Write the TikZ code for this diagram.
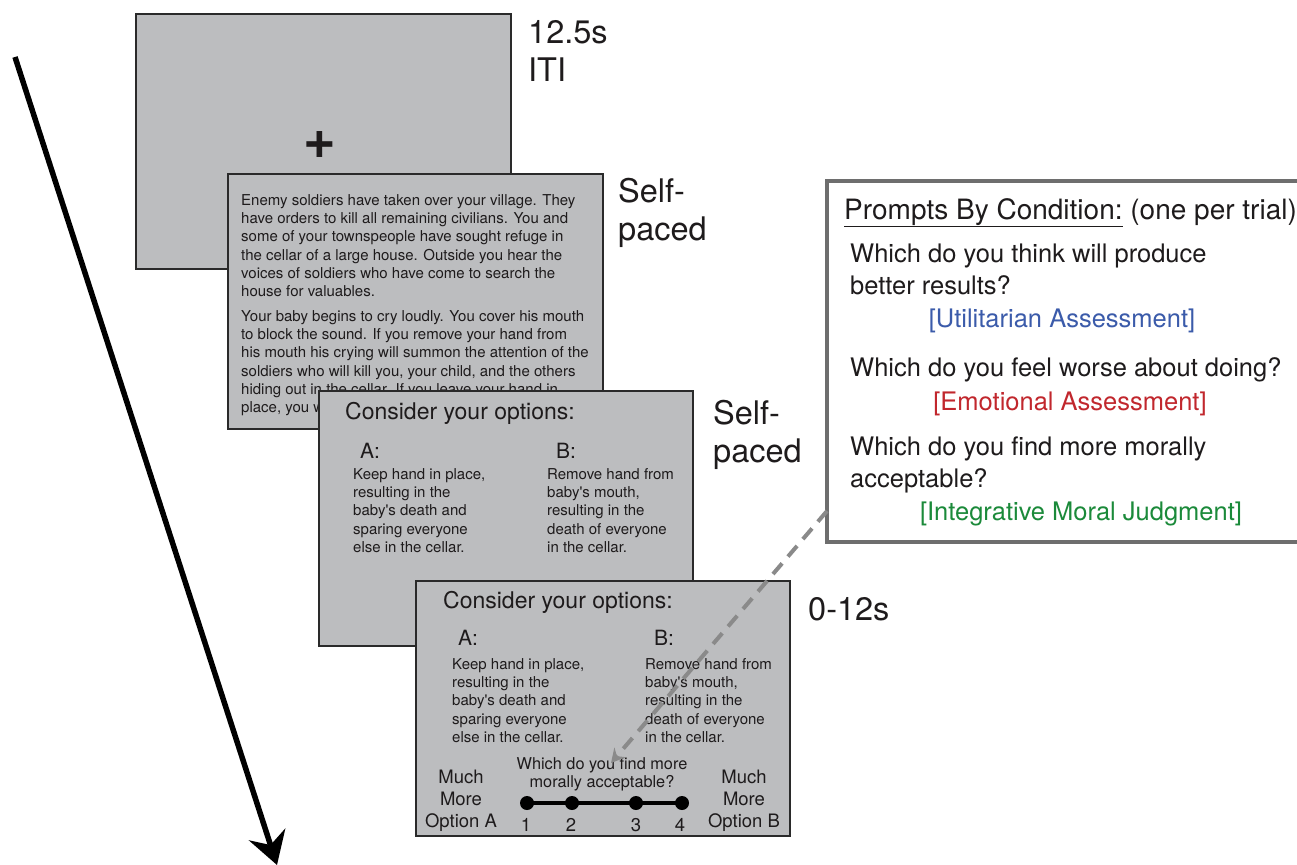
\documentclass[tikz,border=0pt]{standalone}
\usepackage{fontspec}
\setmainfont{TeX Gyre Heros}[Ligatures=TeXOff]
\usetikzlibrary{arrows.meta,calc}
\definecolor{scr}{HTML}{BCBDBF}
\definecolor{scrline}{HTML}{2A2A2A}
\definecolor{txtc}{HTML}{1E1B1C}
\definecolor{promptline}{HTML}{6E6E6E}
\definecolor{dashc}{HTML}{8A8A8A}
\definecolor{utilc}{HTML}{3B5BAA}
\definecolor{emoc}{HTML}{C1272D}
\definecolor{intc}{HTML}{1B8A3A}
\newcommand\fsz[2]{\fontsize{#1}{#2}\selectfont}
\begin{document}
\begin{tikzpicture}[x=1pt,y=-1pt,
  screen/.style={draw=scrline, fill=scr, line width=2pt, rectangle, inner sep=0pt, anchor=north west},
  txt/.style={anchor=north west, inner sep=0pt, align=left, text=txtc},
  story/.style={txt, font=\fsz{15}{18.3}},
  consider/.style={txt, font=\fsz{23}{27}},
  optlab/.style={txt, font=\fsz{21}{25}},
  timing/.style={txt, font=\fsz{32.5}{38.5}},
  scaletxt/.style={anchor=north, inner sep=0pt, align=center, text=txtc, font=\fsz{18.5}{22}},
  prompt/.style={txt, font=\fsz{25.5}{31.5}},
  cond/.style={anchor=north, inner sep=0pt, font=\fsz{25.5}{31.5}},
  dot/.style={circle, fill=black, inner sep=0pt, minimum size=14pt}
]
\useasboundingbox (0,0) rectangle (1297,864);

% time arrow
\coordinate (tstart) at (15,57);
\coordinate (tend) at (277,865);
\draw[line width=5.5pt, -{Stealth[length=32pt,width=38pt,inset=11pt]}] (tstart) -- (tend);

% screen 1
\node[screen, minimum width=375pt, minimum height=255pt] (s1) at (135,13) {};
\node[inner sep=0pt, text=txtc, font=\fsz{56}{56}\bfseries] (plus) at (320,145) {+};
\node[timing] (iti) at (528,20) {12.5s\\ITI};

% screen 2
\node[screen, minimum width=375pt, minimum height=255pt] (s2) at (227,173) {};
\node[story] (p1) at (241,194) {Enemy soldiers have taken over your village. They\\
have orders to kill all remaining civilians. You and\\
some of your townspeople have sought refuge in\\
the cellar of a large house. Outside you hear the\\
voices of soldiers who have come to search the\\
house for valuables.};
\node[story] (p2) at (241,310) {Your baby begins to cry loudly. You cover his mouth\\
to block the sound. If you remove your hand from\\
his mouth his crying will summon the attention of the\\
soldiers who will kill you, your child, and the others\\
hiding out in the cellar. If you leave your hand in\\
place, you will};
\node[timing] (self1) at (618,178) {Self-\\paced};

% screen 3
\node[screen, minimum width=374pt, minimum height=255pt] (s3) at (318,390) {};
\node[consider] (c3) at (345,402) {Consider your options:};
\node[optlab] (a3) at (360,443) {A:};
\node[optlab] (b3) at (556,443) {B:};
\node[story] (oa3) at (353,468) {Keep hand in place,\\resulting in the\\baby's death and\\sparing everyone\\else in the cellar.};
\node[story] (ob3) at (547,468) {Remove hand from\\baby's mouth,\\resulting in the\\death of everyone\\in the cellar.};
\node[timing] (self2) at (713,400) {Self-\\paced};

% screen 4
\node[screen, minimum width=374pt, minimum height=255pt] (s4) at (415,580) {};
\node[consider] (c4) at (443,591) {Consider your options:};
\node[optlab] (a4) at (458,630) {A:};
\node[optlab] (b4) at (654,630) {B:};
\node[story] (oa4) at (452,658) {Keep hand in place,\\resulting in the\\baby's death and\\sparing everyone\\else in the cellar.};
\node[story] (ob4) at (645,658) {Remove hand from\\baby's mouth,\\resulting in the\\death of everyone\\in the cellar.};
\node[anchor=north, inner sep=0pt, align=center, text=txtc, font=\fsz{16.3}{18.5}] (q4) at (602,757) {Which do you find more\\morally acceptable?};
\node[scaletxt] (ma) at (461,770) {Much\\More\\Option A};
\node[scaletxt] (mb) at (744,770) {Much\\More\\Option B};
\node[dot] (d1) at (527,803) {};
\node[dot] (d2) at (572,803) {};
\node[dot] (d3) at (636,803) {};
\node[dot] (d4) at (682,803) {};
\draw[line width=4pt] (d1.center) -- (d2.center) -- (d3.center) -- (d4.center);
\node[scaletxt] (n1) at (526,818) {1};
\node[scaletxt] (n2) at (571,818) {2};
\node[scaletxt] (n3) at (636,818) {3};
\node[scaletxt] (n4) at (680,818) {4};
\node[timing] (t012) at (808,597) {0-12s};

% prompts box (its right side runs off the picture)
\node[fill=white, rectangle, inner sep=0pt, outer sep=0pt, anchor=north west,
      minimum width=472pt, minimum height=361pt] (pb) at (827,181) {};
\draw[promptline, line width=4pt] (pb.north east) -- (pb.north west) -- (pb.south west) -- (pb.south east);
\node[prompt, font=\fsz{28}{31.5}] (ph) at (844,198) {\underline{Prompts By Condition:} (one per trial)};
\node[prompt] (q1) at (850,244) {Which do you think will produce\\better results?};
\node[cond, text=utilc] (ua) at (1062,309) {[Utilitarian Assessment]};
\node[prompt] (q2) at (850,357) {Which do you feel worse about doing?};
\node[cond, text=emoc] (ea) at (1070,392) {[Emotional Assessment]};
\node[prompt] (q3) at (850,437) {Which do you find more morally\\acceptable?};
\node[cond, text=intc] (ij) at (1081,502) {[Integrative Moral Judgment]};

% dashed connector
\coordinate (dend) at (611,763);
\draw[dashc, line width=4pt, dash pattern=on 14pt off 9pt, -{Stealth[length=14pt,width=15pt,inset=5pt]}]
  ($(pb.south west)+(0,-31)$) -- (dend);
\end{tikzpicture}
\end{document}
